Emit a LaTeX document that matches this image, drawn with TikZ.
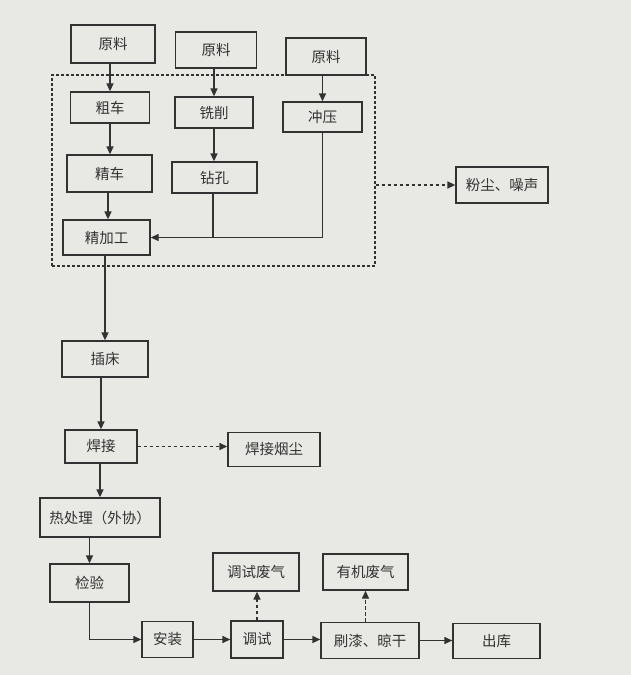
\documentclass[tikz,border=0pt]{standalone}
\usepackage{fontspec}
\setmainfont{Noto Sans CJK SC}
\usetikzlibrary{arrows.meta}
\definecolor{paper}{RGB}{232,232,229}
\definecolor{ink}{RGB}{50,50,50}
\tikzset{
  proc/.style={draw=ink, line width=1.3pt, fill=paper, text=ink, inner sep=0pt,
    font=\fontsize{14.5}{15}\selectfont},
  arr/.style={draw=ink, line width=1.3pt, -{Triangle[length=8pt,width=7pt]}},
  plain/.style={draw=ink, line width=1.3pt},
  darr/.style={draw=ink, line width=1.3pt, dash pattern=on 3.5pt off 2.5pt, -{Triangle[length=8pt,width=7pt]}},
  area/.style={draw=ink, line width=1.1pt, dash pattern=on 3pt off 2pt, inner sep=0pt}
}
\begin{document}
\begin{tikzpicture}[x=1pt,y=-1pt]
\fill[paper] (0,0) rectangle (631,675);
\useasboundingbox (0,0) rectangle (631,675);
% dashed region
\node[area, minimum width=323pt, minimum height=191pt] (reg) at (213.5,170.5) {};
% nodes
\node[proc, minimum width=84pt, minimum height=38pt] (y1) at (113,44) {原料};
\node[proc, minimum width=81pt, minimum height=36pt] (y2) at (216,50) {原料};
\node[proc, minimum width=80pt, minimum height=37pt] (y3) at (326,56.5) {原料};
\node[proc, minimum width=79pt, minimum height=31pt] (cc) at (110,107.5) {粗车};
\node[proc, minimum width=78pt, minimum height=31pt] (xx) at (214,112.5) {铣削};
\node[proc, minimum width=79pt, minimum height=30pt] (cy) at (322.5,117) {冲压};
\node[proc, minimum width=85pt, minimum height=37pt] (jc) at (109.5,173.5) {精车};
\node[proc, minimum width=85pt, minimum height=31pt] (zk) at (214.5,177.5) {钻孔};
\node[proc, minimum width=87pt, minimum height=35pt] (jg) at (106.5,237.5) {精加工};
\node[proc, minimum width=92pt, minimum height=36pt] (fc) at (502,185) {粉尘、噪声};
\node[proc, minimum width=86pt, minimum height=36pt] (cb) at (105,359) {插床};
\node[proc, minimum width=72pt, minimum height=33pt] (hj) at (101,446.5) {焊接};
\node[proc, minimum width=92pt, minimum height=34pt] (hy) at (274,449.5) {焊接烟尘};
\node[proc, minimum width=120pt, minimum height=39pt] (rc) at (100,517.5) {热处理（外协）};
\node[proc, minimum width=79pt, minimum height=38pt] (jy) at (89.5,583) {检验};
\node[proc, minimum width=51pt, minimum height=36pt] (az) at (167.5,639.5) {安装};
\node[proc, minimum width=52pt, minimum height=37pt] (ts) at (257,639.5) {调试};
\node[proc, minimum width=86pt, minimum height=38pt] (tq) at (256,572) {调试废气};
\node[proc, minimum width=98pt, minimum height=36pt] (sq) at (370,640.5) {刷漆、晾干};
\node[proc, minimum width=85pt, minimum height=36pt] (yq) at (365.5,572) {有机废气};
\node[proc, minimum width=87pt, minimum height=35pt] (ck) at (496.5,641) {出库};
% connectors
\draw[arr] (y1.south -| cc.north) -- (cc.north);
\draw[arr] (cc.south) -- (cc.south |- jc.north);
\draw[arr] (jc.south -| 108,0) -- (jg.north -| 108,0);
\draw[arr] (y2.south -| xx.north) -- (xx.north);
\draw[arr] (xx.south) -- (xx.south |- zk.north);
\draw[arr] (y3.south -| cy.north) -- (cy.north);
\draw[arr] (cy.south) |- (jg.east);
\draw[plain] (zk.south -| 213,0) -- (jg.east -| 213,0);
\draw[darr] (reg.east |- fc.west) -- (fc.west);
\draw[arr] (jg.south -| cb.north) -- (cb.north);
\draw[arr] (cb.south -| hj.north) -- (hj.north);
\draw[darr] (hj.east) -- (hy.west |- hj.east);
\draw[arr] (hj.south -| rc.north) -- (rc.north);
\draw[arr] (rc.south -| jy.north) -- (jy.north);
\draw[arr] (jy.south) |- (az.west);
\draw[arr] (az.east) -- (ts.west |- az.east);
\draw[darr] (ts.north) -- (ts.north |- tq.south);
\draw[arr] (ts.east) -- (sq.west |- ts.east);
\draw[darr] (yq.south |- sq.north) -- (yq.south);
\draw[arr] (sq.east) -- (ck.west |- sq.east);
\end{tikzpicture}
\end{document}
